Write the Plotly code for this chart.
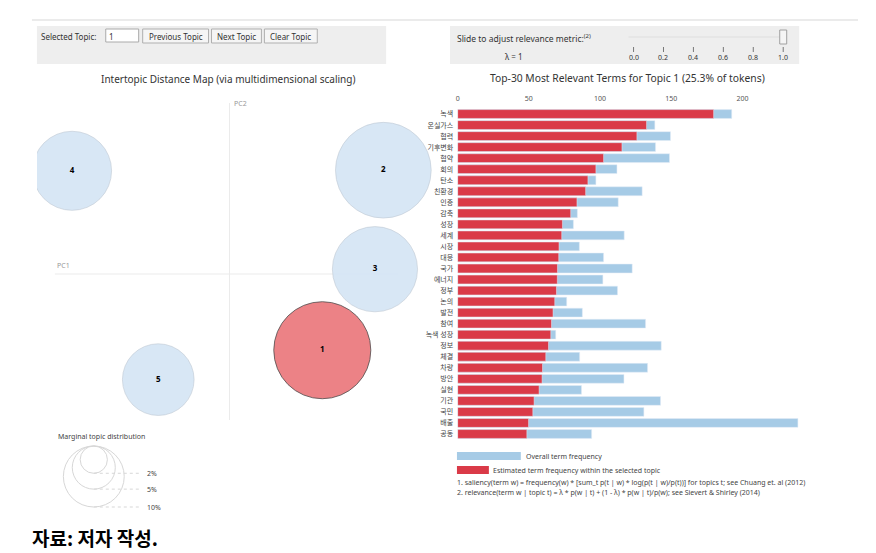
import plotly.graph_objects as go

W, H = 876, 553

def px(x):
    return x / W

def py(y):
    return 1 - y / H

# ---------------- data ----------------
topics = ["1", "2", "3", "4", "5"]
pc1 = [0.155, 0.257, 0.243, -0.263, -0.119]
pc2 = [-0.127, 0.173, 0.008, 0.172, -0.176]
topic_share = [25.3, 24.6, 19.5, 16.8, 13.8]   # % of tokens
selected_topic = "1"

terms = ["녹색", "온실가스", "협력", "기후변화", "협약", "회의", "탄소", "친환경", "인증", "감축",
         "성장", "세계", "시장", "대응", "국가", "에너지", "정부", "논의", "발전", "참여",
         "녹색 성장", "정보", "체결", "차량", "방안", "실현", "기관", "국민", "배출", "공동"]
overall_freq = [192.5, 138.5, 149.5, 139.0, 148.8, 111.9, 97.1, 129.6, 112.8, 84.1,
                81.3, 117.0, 85.5, 102.5, 122.6, 102.0, 112.3, 76.6, 87.6, 132.0,
                68.9, 143.0, 85.7, 133.4, 116.8, 87.0, 142.5, 130.8, 239.0, 94.1]
topic_freq = [179.8, 132.7, 125.9, 115.4, 102.5, 97.1, 91.5, 89.9, 83.8, 79.4,
              73.6, 73.1, 71.2, 71.0, 70.1, 70.0, 69.4, 68.2, 67.0, 65.9,
              65.4, 63.8, 61.9, 59.6, 59.3, 57.2, 53.7, 52.8, 49.8, 48.6]
bar_ticks = [0, 50, 100, 150, 200]
marginal_levels = [2, 5, 10]          # % marginal legend circles
lambda_ticks = [0.0, 0.2, 0.4, 0.6, 0.8, 1.0]
lambda_value = 1.0

# ---------------- styling ----------------
FONT = "Noto Sans, Noto Sans CJK KR, sans-serif"
BLUE_FILL = "rgb(214,230,245)"
RED_FILL = "rgb(236,124,128)"
BAR_BLUE = "rgb(166,203,230)"
BAR_RED = "rgb(218,58,72)"
R10 = 30.5   # px radius of a 10% topic circle


def diam(p):
    return 2 * R10 * (p / 10) ** 0.5


fig = go.Figure()

# Intertopic distance map
fig.add_trace(go.Scatter(
    x=pc1, y=pc2, mode="markers+text", text=["<b>%s</b>" % t for t in topics],
    textfont=dict(family=FONT, size=8, color="black"),
    marker=dict(size=[diam(p) for p in topic_share],
                color=[RED_FILL if t == selected_topic else BLUE_FILL for t in topics],
                opacity=0.95,
                line=dict(color=["rgba(70,70,70,0.8)" if t == selected_topic else "rgba(190,200,210,0.6)" for t in topics], width=1)),
    xaxis="x", yaxis="y", showlegend=False, hoverinfo="skip", cliponaxis=True))

# Bars
fig.add_trace(go.Bar(y=terms, x=overall_freq, orientation="h", marker_color=BAR_BLUE,
                     width=0.8, xaxis="x2", yaxis="y2", showlegend=False))
fig.add_trace(go.Bar(y=terms, x=topic_freq, orientation="h", marker_color=BAR_RED,
                     width=0.8, xaxis="x2", yaxis="y2", showlegend=False))

shapes = []
ann = []


def text(x, y, s, size=8, color="#333", xanchor="center", yanchor="middle", xref="paper", yref="paper", family=FONT):
    if xref == "paper":
        x = px(x)
    if yref == "paper":
        y = py(y)
    ann.append(dict(xref=xref, yref=yref, x=x, y=y, text=s, showarrow=False,
                    xanchor=xanchor, yanchor=yanchor, font=dict(family=family, size=size, color=color)))


def pline(x0, x1, y0, y1, color, width=1, dash="solid"):
    shapes.append(dict(type="line", xref="paper", yref="paper", x0=px(x0), x1=px(x1), y0=py(y0), y1=py(y1),
                       line=dict(color=color, width=width, dash=dash)))


def prect(x0, x1, y0, y1, fill, lc=None, lw=0, layer="above"):
    shapes.append(dict(type="rect", xref="paper", yref="paper", x0=px(x0), x1=px(x1), y0=py(y1), y1=py(y0),
                       fillcolor=fill, line=dict(color=lc, width=lw) if lc else dict(width=0), layer=layer))


# axes lines for MDS
shapes.append(dict(type="line", xref="x", yref="y", x0=-0.2917, x1=0.2817, y0=0, y1=0,
                   line=dict(color="rgb(235,235,235)", width=1), layer="below"))
shapes.append(dict(type="line", xref="x", yref="y", x0=0, x1=0, y0=-0.2433, y1=0.285,
                   line=dict(color="rgb(235,235,235)", width=1), layer="below"))
text(-0.2917, 0.004, "PC1", size=7, color="#999", xanchor="left", yanchor="bottom", xref="x", yref="y")
text(0.004, 0.285, "PC2", size=7, color="#999", xanchor="left", yanchor="middle", xref="x", yref="y")

# top rule
pline(30, 858, 20, 20, "rgb(215,215,215)")
# control boxes
prect(35, 385, 26, 64, "rgb(238,238,238)", layer="below")
prect(449, 799, 26, 64, "rgb(238,238,238)", layer="below")

text(37, 36, "Selected Topic:", xanchor="left")
prect(104, 137, 29, 42, "white", "rgb(170,170,170)", 1)
text(105, 36, "1", xanchor="left")
for label, x0, x1 in [("Previous Topic", 141, 207), ("Next Topic", 210, 260), ("Clear Topic", 263, 316)]:
    prect(x0, x1, 29, 43, "rgb(245,245,245)", "rgb(175,175,175)", 1)
    text((x0 + x1) / 2, 36, label)

text(454, 38, "Slide to adjust relevance metric:<sup>(2)</sup>", size=8.5, xanchor="left")
text(513, 56.5, "λ = %g" % lambda_value, size=8)
# slider
pline(628, 785, 37, 37, "rgb(222,222,222)")
for v in lambda_ticks:
    xx = 633 + v * 150
    pline(xx, xx, 47, 52, "#777")
    text(xx, 57.5, "%.1f" % v, size=7)
hx = 633 + lambda_value * 150
prect(hx - 3.5, hx + 3.5, 30, 44, "rgb(245,245,245)", "rgb(160,160,160)", 1)

# titles
text(227, 79, "Intertopic Distance Map (via multidimensional scaling)", size=10)
text(627, 78, "Top-30 Most Relevant Terms for Topic %s (%.1f%% of tokens)" % (selected_topic, topic_share[0]), size=10.3)

# marginal topic distribution legend
text(100, 436, "Marginal topic distribution", size=7, color="#444")
cx, top = 92, 446
for p in marginal_levels:
    r = diam(p) / 2
    shapes.append(dict(type="circle", xref="paper", yref="paper", x0=px(cx - r), x1=px(cx + r),
                       y0=py(top + 2 * r), y1=py(top),
                       line=dict(color="rgb(215,215,215)", width=1)))
    pline(cx, 140, top + 2 * r, top + 2 * r, "rgb(215,215,215)", dash="dot")
    text(143, top + 2 * r, "%d%%" % p, size=7, color="#444", xanchor="left")

# bar legend
prect(456, 520, 452, 460, BAR_BLUE)
text(523, 456, "Overall term frequency", size=7, color="#444", xanchor="left")
prect(456, 488, 466, 474, BAR_RED)
text(490, 470, "Estimated term frequency within the selected topic", size=7, color="#444", xanchor="left")
text(454, 482, "1. saliency(term w) = frequency(w) * [sum_t p(t | w) * log(p(t | w)/p(t))] for topics t; see Chuang et. al (2012)",
     size=7, color="#444", xanchor="left")
text(454, 492, "2. relevance(term w | topic t) = λ * p(w | t) + (1 - λ) * p(w | t)/p(w); see Sievert & Shirley (2014)",
     size=7, color="#444", xanchor="left")

# caption
text(28, 537, "<b>자료: 저자 작성.</b>", size=19, color="black", xanchor="left", family="Noto Sans CJK KR")

fig.update_layout(
    width=W, height=H, margin=dict(l=0, r=0, t=0, b=0),
    paper_bgcolor="white", plot_bgcolor="rgba(0,0,0,0)",
    barmode="overlay", bargap=0.2,
    shapes=shapes, annotations=ann,
    xaxis=dict(domain=[px(35), px(440)], range=[-0.3217, 0.3533], visible=False, fixedrange=True),
    yaxis=dict(domain=[py(420), py(100)], range=[-0.2433, 0.29], visible=False, fixedrange=True),
    xaxis2=dict(domain=[px(456.7), px(820)], range=[0, 254.6], side="top", anchor="y2",
                tickvals=bar_ticks, showgrid=False, zeroline=False, showline=False,
                tickfont=dict(family=FONT, size=7, color="#555"), ticks="outside", ticklen=4,
                tickcolor="rgba(0,0,0,0)"),
    yaxis2=dict(domain=[py(439.5), py(108.5)], anchor="x2", type="category", autorange="reversed",
                showgrid=False, zeroline=False, showline=False,
                tickfont=dict(family=FONT, size=7, color="#444"), ticks="outside", ticklen=2,
                tickcolor="rgba(0,0,0,0)"),
)

fig.write_html("out.html")
